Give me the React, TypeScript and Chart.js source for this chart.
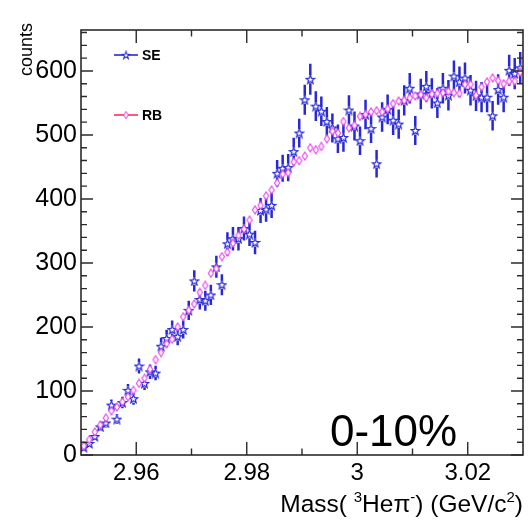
import React, { useEffect, useRef } from 'react';
import { Chart, registerables } from 'chart.js';

Chart.register(...registerables);

// ---- data -------------------------------------------------------------
const massBins = [
  2.9505, 2.9515, 2.9525, 2.9535, 2.9545, 2.9555, 2.9565, 2.9575, 2.9585, 2.9595,
  2.9605, 2.9615, 2.9625, 2.9635, 2.9645, 2.9655, 2.9665, 2.9675, 2.9685, 2.9695,
  2.9705, 2.9715, 2.9725, 2.9735, 2.9745, 2.9755, 2.9765, 2.9775, 2.9785, 2.9795,
  2.9805, 2.9815, 2.9825, 2.9835, 2.9845, 2.9855, 2.9865, 2.9875, 2.9885, 2.9895,
  2.9905, 2.9915, 2.9925, 2.9935, 2.9945, 2.9955, 2.9965, 2.9975, 2.9985, 2.9995,
  3.0005, 3.0015, 3.0025, 3.0035, 3.0045, 3.0055, 3.0065, 3.0075, 3.0085, 3.0095,
  3.0105, 3.0115, 3.0125, 3.0135, 3.0145, 3.0155, 3.0165, 3.0175, 3.0185, 3.0195,
  3.0205, 3.0215, 3.0225, 3.0235, 3.0245, 3.0255, 3.0265, 3.0275, 3.0285, 3.0295,
];

const seCounts = [
  12, 18, 29, 44, 50, 78, 56, 82, 101, 88,
  139, 112, 130, 128, 170, 182, 196, 185, 196, 226,
  272, 243, 241, 250, 294, 266, 330, 338, 338, 354,
  345, 332, 382, 384, 390, 440, 448, 449, 474, 503,
  555, 587, 545, 537, 521, 511, 494, 496, 539, 514,
  491, 532, 510, 455, 528, 540, 523, 517, 554, 573,
  507, 564, 576, 565, 550, 573, 562, 592, 583, 589,
  570, 561, 559, 559, 530, 571, 559, 601, 596, 605,
];

const rbCounts = [
  14, 24, 36, 47, 58, 69, 75, 83, 91, 101,
  112, 120, 134, 149, 160, 174, 181, 200, 216, 226,
  236, 254, 265, 284, 291, 310, 317, 331, 343, 353,
  367, 383, 390, 405, 414, 425, 439, 441, 458, 460,
  467, 480, 477, 482, 494, 506, 503, 521, 511, 515,
  529, 532, 536, 538, 536, 541, 549, 553, 554, 558,
  561, 563, 558, 564, 565, 566, 568, 566, 565, 579,
  579, 562, 575, 583, 589, 585, 580, 584, 584, 598,
];

const seriesNames = ['SE', 'RB'];
const xTickValues = [2.96, 2.98, 3.0, 3.02];
const xTickLabels = ['2.96', '2.98', '3', '3.02'];
const xMinorTicks = [2.97, 2.99, 3.01];
const yTickValues = [0, 100, 200, 300, 400, 500, 600];
const yTickLabels = ['0', '100', '200', '300', '400', '500', '600'];
const yMinorStep = 20;
const centralityLabel = '0-10%';
const yTitle = 'counts';

const X_MIN = 2.95;
const X_MAX = 3.03;
const Y_MIN = 0;
const Y_MAX = 664;

// ---- styles ----------------------------------------------------------
const FONT = '"Liberation Sans", Arial, Helvetica, sans-serif';
const SE_COLOR = '#2828d8';
const RB_COLOR = '#ea40ea';
const RB_LEGEND_LINE = '#ff2d55';

function makeStar(color: string, size = 11): HTMLCanvasElement {
  const c = document.createElement('canvas');
  c.width = size;
  c.height = size;
  const ctx = c.getContext('2d')!;
  const cx = size / 2;
  const cy = size / 2 + 0.4;
  const R = size / 2 - 0.9;
  const r = R * 0.42;
  ctx.beginPath();
  for (let k = 0; k < 10; k++) {
    const rad = k % 2 === 0 ? R : r;
    const a = -Math.PI / 2 + (k * Math.PI) / 5;
    const x = cx + rad * Math.cos(a);
    const y = cy + rad * Math.sin(a);
    if (k === 0) ctx.moveTo(x, y);
    else ctx.lineTo(x, y);
  }
  ctx.closePath();
  ctx.fillStyle = '#ffffff';
  ctx.fill();
  ctx.strokeStyle = color;
  ctx.lineWidth = 1.2;
  ctx.stroke();
  return c;
}

function makeDiamond(color: string): HTMLCanvasElement {
  const c = document.createElement('canvas');
  c.width = 8;
  c.height = 10;
  const ctx = c.getContext('2d')!;
  ctx.beginPath();
  ctx.moveTo(4, 1);
  ctx.lineTo(6.6, 5);
  ctx.lineTo(4, 9);
  ctx.lineTo(1.4, 5);
  ctx.closePath();
  ctx.fillStyle = '#ffffff';
  ctx.fill();
  ctx.strokeStyle = color;
  ctx.lineWidth = 1.1;
  ctx.stroke();
  return c;
}

function makeDecorPlugin(starImg: HTMLCanvasElement, diamondImg: HTMLCanvasElement) {
  return {
    id: 'rootDecor',
    beforeDatasetDraw(chart: any, args: any) {
      const ctx = chart.ctx;
      const xs = chart.scales.x;
      const ys = chart.scales.y;
      ctx.save();
      if (args.index === 0) {
        // SE statistical error bars (Poisson), with a gap around the marker
        ctx.strokeStyle = SE_COLOR;
        ctx.lineWidth = 2.5;
        massBins.forEach((m, i) => {
          const v = seCounts[i];
          const e = Math.sqrt(v);
          const px = xs.getPixelForValue(m);
          const py = ys.getPixelForValue(v);
          const top = ys.getPixelForValue(v + e);
          const bot = ys.getPixelForValue(Math.max(0, v - e));
          ctx.beginPath();
          if (py - top > 4) {
            ctx.moveTo(px, top);
            ctx.lineTo(px, py - 4);
          }
          if (bot - py > 4) {
            ctx.moveTo(px, py + 4);
            ctx.lineTo(px, bot);
          }
          ctx.stroke();
        });
      } else if (args.index === 1) {
        ctx.strokeStyle = RB_COLOR;
        ctx.lineWidth = 1.6;
        massBins.forEach((m, i) => {
          const v = rbCounts[i];
          const e = Math.sqrt(v) * 0.22;
          const px = xs.getPixelForValue(m);
          const top = ys.getPixelForValue(v + e);
          const bot = ys.getPixelForValue(Math.max(0, v - e));
          ctx.beginPath();
          ctx.moveTo(px, top);
          ctx.lineTo(px, bot);
          ctx.stroke();
        });
      }
      ctx.restore();
    },
    afterDraw(chart: any) {
      const ctx = chart.ctx;
      const xs = chart.scales.x;
      const ys = chart.scales.y;
      const a = chart.chartArea;
      ctx.save();

      // frame
      ctx.strokeStyle = '#2b2b2b';
      ctx.lineWidth = 1.6;
      ctx.strokeRect(a.left, a.top, a.right - a.left, a.bottom - a.top);

      // ticks (inside, on all four sides)
      ctx.lineWidth = 1.4;
      ctx.beginPath();
      const xMajorLen = 13;
      const xMinorLen = 6.5;
      xTickValues.forEach((v) => {
        const px = xs.getPixelForValue(v);
        ctx.moveTo(px, a.bottom);
        ctx.lineTo(px, a.bottom - xMajorLen);
        ctx.moveTo(px, a.top);
        ctx.lineTo(px, a.top + xMajorLen);
      });
      xMinorTicks.forEach((v) => {
        const px = xs.getPixelForValue(v);
        ctx.moveTo(px, a.bottom);
        ctx.lineTo(px, a.bottom - xMinorLen);
        ctx.moveTo(px, a.top);
        ctx.lineTo(px, a.top + xMinorLen);
      });
      const yMajorLen = 12;
      const yMinorLen = 6;
      for (let v = Y_MIN; v <= Y_MAX; v += yMinorStep) {
        const py = ys.getPixelForValue(v);
        const len = v % 100 === 0 ? yMajorLen : yMinorLen;
        ctx.moveTo(a.left, py);
        ctx.lineTo(a.left + len, py);
        ctx.moveTo(a.right, py);
        ctx.lineTo(a.right - len, py);
      }
      ctx.stroke();

      // legend
      const legendItems = [
        { name: seriesNames[0], y: 55, line: SE_COLOR, img: starImg },
        { name: seriesNames[1], y: 115, line: RB_LEGEND_LINE, img: diamondImg },
      ];
      legendItems.forEach((it) => {
        ctx.strokeStyle = it.line;
        ctx.lineWidth = 1.6;
        ctx.beginPath();
        ctx.moveTo(114, it.y);
        ctx.lineTo(138, it.y);
        ctx.stroke();
        const w = it.img.width * 0.85;
        const h = it.img.height * 0.85;
        ctx.drawImage(it.img, 126 - w / 2, it.y - h / 2, w, h);
        ctx.fillStyle = '#000';
        ctx.font = `bold 14px ${FONT}`;
        ctx.textAlign = 'left';
        ctx.textBaseline = 'middle';
        ctx.fillText(it.name, 142, it.y + 1);
      });

      // y-axis title
      ctx.save();
      ctx.translate(32, 23);
      ctx.rotate(-Math.PI / 2);
      ctx.font = `18px ${FONT}`;
      ctx.textAlign = 'right';
      ctx.textBaseline = 'alphabetic';
      ctx.fillStyle = '#000';
      ctx.fillText(yTitle, 0, 0);
      ctx.restore();

      // x-axis title with superscripts
      const pieces = [
        { t: 'Mass( ', sup: false },
        { t: '3', sup: true },
        { t: 'He\u03c0', sup: false },
        { t: '-', sup: true },
        { t: ') (GeV/c', sup: false },
        { t: '2', sup: true },
        { t: ')', sup: false },
      ];
      const bigFont = `24.5px ${FONT}`;
      const smallFont = `15px ${FONT}`;
      let total = 0;
      pieces.forEach((p) => {
        ctx.font = p.sup ? smallFont : bigFont;
        total += ctx.measureText(p.t).width;
      });
      let x = 523 - total;
      const base = 512;
      ctx.textAlign = 'left';
      ctx.textBaseline = 'alphabetic';
      ctx.fillStyle = '#000';
      pieces.forEach((p) => {
        ctx.font = p.sup ? smallFont : bigFont;
        ctx.fillText(p.t, x, p.sup ? base - 10 : base);
        x += ctx.measureText(p.t).width;
      });

      // centrality label
      ctx.font = `44px ${FONT}`;
      ctx.fillText(centralityLabel, 330, 446);

      ctx.restore();
    },
  };
}

export default function App() {
  const canvasRef = useRef<HTMLCanvasElement | null>(null);

  useEffect(() => {
    document.body.style.margin = '0';
    const canvas = canvasRef.current;
    if (!canvas) return;
    const starImg = makeStar(SE_COLOR);
    const diamondImg = makeDiamond(RB_COLOR);

    const chart: any = new Chart(canvas, {
      type: 'scatter',
      data: {
        datasets: [
          {
            label: seriesNames[0],
            data: massBins.map((m, i) => ({ x: m, y: seCounts[i] })),
            pointStyle: starImg as any,
            showLine: false,
            order: 1,
          },
          {
            label: seriesNames[1],
            data: massBins.map((m, i) => ({ x: m, y: rbCounts[i] })),
            pointStyle: diamondImg as any,
            showLine: false,
            order: 0,
          },
        ],
      },
      options: {
        animation: false,
        responsive: false,
        maintainAspectRatio: false,
        events: [],
        layout: { padding: { top: 30, right: 4.5, left: 0, bottom: 0 } },
        plugins: {
          legend: { display: false },
          tooltip: { enabled: false },
          title: { display: false },
        },
        scales: {
          x: {
            type: 'linear',
            min: X_MIN,
            max: X_MAX,
            afterFit: (s: any) => {
              s.height = 70;
            },
            afterBuildTicks: (s: any) => {
              s.ticks = xTickValues.map((v) => ({ value: v }));
            },
            ticks: {
              callback: (v: any) => {
                const idx = xTickValues.findIndex((t) => Math.abs(t - v) < 1e-9);
                return idx >= 0 ? xTickLabels[idx] : '';
              },
              font: { family: FONT, size: 24 },
              color: '#000',
              padding: 4,
              maxRotation: 0,
              autoSkip: false,
            },
            grid: { display: false, drawTicks: false },
            border: { display: false },
          },
          y: {
            type: 'linear',
            min: Y_MIN,
            max: Y_MAX,
            afterFit: (s: any) => {
              s.width = 81;
            },
            afterBuildTicks: (s: any) => {
              s.ticks = yTickValues.map((v) => ({ value: v }));
            },
            ticks: {
              callback: (v: any) => {
                const idx = yTickValues.indexOf(v);
                return idx >= 0 ? yTickLabels[idx] : '';
              },
              font: { family: FONT, size: 25 },
              color: '#000',
              padding: 4,
              autoSkip: false,
            },
            grid: { display: false, drawTicks: false },
            border: { display: false },
          },
        },
      },
      plugins: [makeDecorPlugin(starImg, diamondImg) as any],
    });

    return () => {
      chart.destroy();
    };
  }, []);

  return (
    <div style={{ position: 'absolute', left: 0, top: 0, width: 528, height: 525, background: '#fff' }}>
      <canvas ref={canvasRef} width={528} height={525} style={{ width: 528, height: 525, display: 'block' }} />
    </div>
  );
}
